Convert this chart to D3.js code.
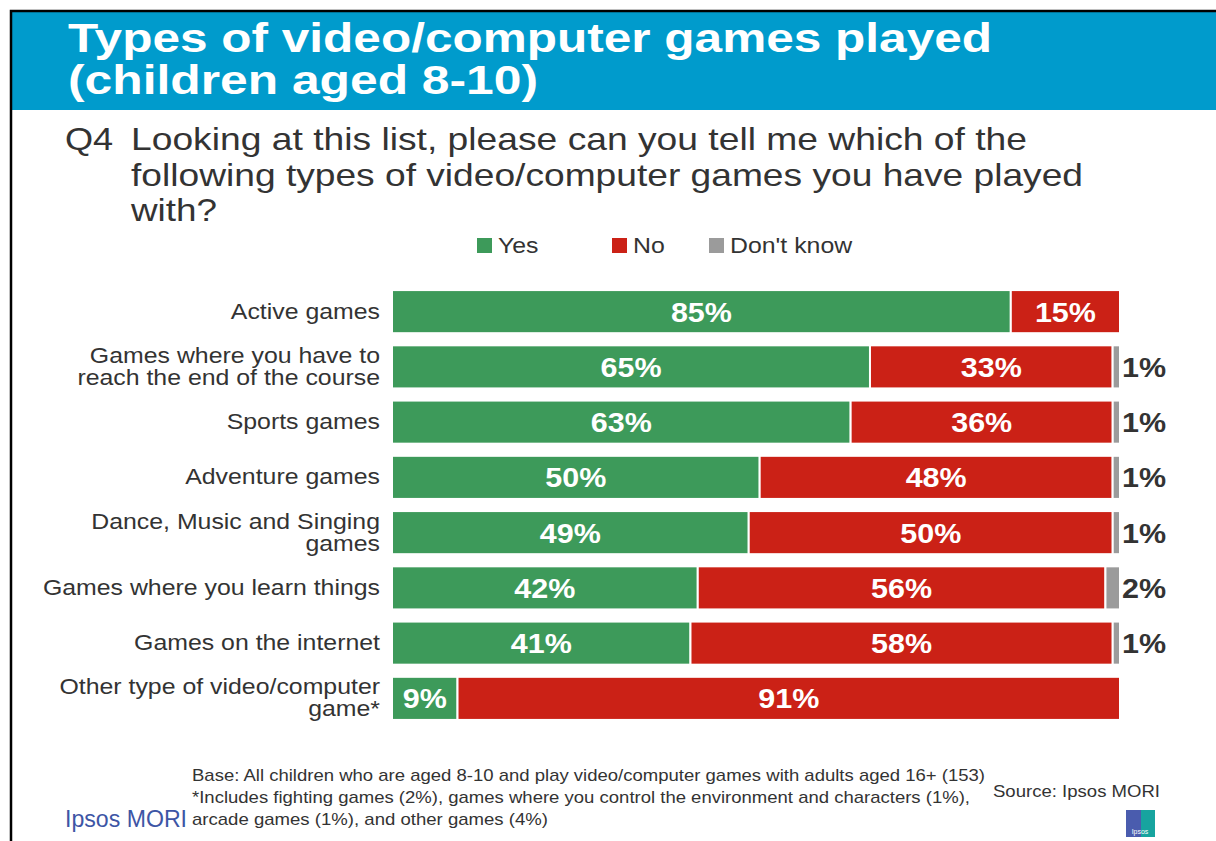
<!DOCTYPE html>
<html>
<head>
<meta charset="utf-8">
<script src="https://cdn.jsdelivr.net/npm/d3@7"></script>
<style>
    body { margin: 0; background: #fff; }
    text { font-family: "Liberation Sans", Arial, sans-serif; }
</style>
</head>
<body>
<div id="chart"></div>
<script>
//Chart data
var categories = [
    "Active games",
    "Games where you have to\nreach the end of the course",
    "Sports games",
    "Adventure games",
    "Dance, Music and Singing\ngames",
    "Games where you learn things",
    "Games on the internet",
    "Other type of video/computer\ngame*"
];
var yesValues = [85, 65, 63, 50, 49, 42, 41, 9];
var noValues = [15, 33, 36, 48, 50, 56, 58, 91];
var dontKnowValues = [0, 1, 1, 1, 1, 2, 1, 0];
var seriesNames = ["Yes", "No", "Don't know"];
var seriesKeys = ["yes", "no", "dk"];
var seriesColors = ["#3d9a5a", "#cb2116", "#9b9b9b"];

//Create SVG dimensions
var svgWidth = 1216;
var svgHeight = 841;

//The slide's text is drawn a little wider than the font
var stretch = 1.13;
function at(x, y) {
    return `translate(${x}, ${y}) scale(${stretch}, 1)`;
}

var svg = d3.select("#chart")
    .append("svg")
    .attr("width", svgWidth)
    .attr("height", svgHeight);

//Slide frame and header band
svg.append("rect")
    .attr("x", 12)
    .attr("y", 12)
    .attr("width", svgWidth - 12)
    .attr("height", 98)
    .attr("fill", "#009bcc");

svg.append("path")
    .attr("d", `M11,${svgHeight} V11 H${svgWidth}`)
    .attr("fill", "none")
    .attr("stroke", "#000")
    .attr("stroke-width", 2.5);

var titleLines = [
    {text: "Types of video/computer games played", y: 52, len: 924},
    {text: "(children aged 8-10)", y: 94, len: 470}
];
svg.selectAll(".title")
    .data(titleLines)
    .enter()
    .append("text")
    .attr("class", "title")
    .attr("x", 68)
    .attr("y", d => d.y)
    .attr("textLength", d => d.len)
    .attr("lengthAdjust", "spacingAndGlyphs")
    .attr("fill", "#fff")
    .attr("font-size", 41)
    .attr("font-weight", "bold")
    .text(d => d.text);

//Question text
svg.append("text")
    .attr("transform", at(65, 150))
    .attr("fill", "#333")
    .attr("font-size", 32)
    .text("Q4");

var questionLines = [
    {text: "Looking at this list, please can you tell me which of the", y: 150, len: 896},
    {text: "following types of video/computer games you have played", y: 186, len: 952},
    {text: "with?", y: 221, len: 86}
];
svg.selectAll(".question")
    .data(questionLines)
    .enter()
    .append("text")
    .attr("class", "question")
    .attr("x", 131)
    .attr("y", d => d.y)
    .attr("textLength", d => d.len)
    .attr("lengthAdjust", "spacingAndGlyphs")
    .attr("fill", "#333")
    .attr("font-size", 32)
    .text(d => d.text);

//Legend
var legendX = [477, 612, 709];
var legend = svg.selectAll(".legend")
    .data(seriesNames)
    .enter()
    .append("g")
    .attr("class", "legend")
    .attr("transform", (d, i) => `translate(${legendX[i]}, 238)`);

legend.append("rect")
    .attr("width", 15)
    .attr("height", 15)
    .attr("fill", (d, i) => seriesColors[i]);

legend.append("text")
    .attr("transform", at(21, 15))
    .attr("fill", "#333")
    .attr("font-size", 22)
    .text(d => d);

//Build rows and stack them as shares of each row
var rows = categories.map((c, i) => ({
    category: c,
    yes: yesValues[i],
    no: noValues[i],
    dk: dontKnowValues[i]
}));

var stacked = d3.stack()
    .keys(seriesKeys)
    .offset(d3.stackOffsetExpand)(rows);

var xScale = d3.scaleLinear()
    .domain([0, 1])
    .range([392, 1120]);

var yScale = d3.scaleBand()
    .domain(categories)
    .range([284, 726])
    .paddingInner(0.22)
    .paddingOuter(0.11);

//Category labels
var labelGroup = svg.selectAll(".cat")
    .data(categories)
    .enter()
    .append("text")
    .attr("class", "cat")
    .attr("transform", d => at(380, yScale(d) + yScale.bandwidth() / 2))
    .attr("text-anchor", "end")
    .attr("fill", "#333")
    .attr("font-size", 22);

labelGroup.each(function(d) {
    var lines = d.split("\n");
    d3.select(this).selectAll("tspan")
        .data(lines)
        .enter()
        .append("tspan")
        .attr("x", 0)
        .attr("y", (l, j) => 7 - (lines.length - 1) * 11 + j * 22)
        .text(l => l);
});

//Bars
var layers = svg.selectAll(".layer")
    .data(stacked)
    .enter()
    .append("g")
    .attr("class", "layer")
    .attr("fill", (d, i) => seriesColors[i]);

layers.selectAll("rect")
    .data(d => d.filter(p => p[1] > p[0]))
    .enter()
    .append("rect")
    .attr("x", d => xScale(d[0]))
    .attr("y", d => yScale(d.data.category))
    .attr("width", d => xScale(d[1]) - xScale(d[0]))
    .attr("height", yScale.bandwidth())
    .attr("stroke", "#fff")
    .attr("stroke-width", 2);

//Value labels inside the bars for yes / no
stacked.slice(0, 2).forEach(function(layer) {
    svg.selectAll(null)
        .data(layer.filter(p => p[1] > p[0]))
        .enter()
        .append("text")
        .attr("transform", d => at((xScale(d[0]) + xScale(d[1])) / 2,
            yScale(d.data.category) + yScale.bandwidth() / 2 + 10))
        .attr("text-anchor", "middle")
        .attr("fill", "#fff")
        .attr("font-size", 27)
        .attr("font-weight", "bold")
        .text(d => d.data[layer.key] + "%");
});

//Don't know labels outside the bars
svg.selectAll(".dk")
    .data(stacked[2].filter(p => p[1] > p[0]))
    .enter()
    .append("text")
    .attr("class", "dk")
    .attr("transform", d => at(xScale(1) + 2, yScale(d.data.category) + yScale.bandwidth() / 2 + 10))
    .attr("fill", "#333")
    .attr("font-size", 27)
    .attr("font-weight", "bold")
    .text(d => d.data.dk + "%");

//Footer notes
var notes = [
    {text: "Base: All children who are aged 8-10 and play video/computer games with adults aged 16+ (153)", y: 781, len: 793},
    {text: "*Includes fighting games (2%), games where you control the environment and characters (1%),", y: 803, len: 778},
    {text: "arcade games (1%), and other games (4%)", y: 825, len: 356}
];
svg.selectAll(".note")
    .data(notes)
    .enter()
    .append("text")
    .attr("class", "note")
    .attr("x", 192)
    .attr("y", d => d.y)
    .attr("textLength", d => d.len)
    .attr("lengthAdjust", "spacingAndGlyphs")
    .attr("fill", "#333")
    .attr("font-size", 17)
    .text(d => d.text);

svg.append("text")
    .attr("x", 993)
    .attr("y", 797)
    .attr("textLength", 167)
    .attr("lengthAdjust", "spacingAndGlyphs")
    .attr("fill", "#333")
    .attr("font-size", 17)
    .text("Source: Ipsos MORI");

svg.append("text")
    .attr("x", 65)
    .attr("y", 827)
    .attr("textLength", 122)
    .attr("lengthAdjust", "spacingAndGlyphs")
    .attr("fill", "#3d55a5")
    .attr("font-size", 23)
    .text("Ipsos MORI");

//Small Ipsos logo
var logo = svg.append("g")
    .attr("transform", "translate(1126, 810)");
logo.append("rect")
    .attr("width", 16)
    .attr("height", 27)
    .attr("fill", "#4a5cae");
logo.append("rect")
    .attr("x", 15)
    .attr("width", 14)
    .attr("height", 27)
    .attr("fill", "#17a49f");
logo.append("text")
    .attr("x", 14)
    .attr("y", 24)
    .attr("text-anchor", "middle")
    .attr("fill", "#fff")
    .attr("font-size", 7)
    .text("Ipsos");
</script>
</body>
</html>
